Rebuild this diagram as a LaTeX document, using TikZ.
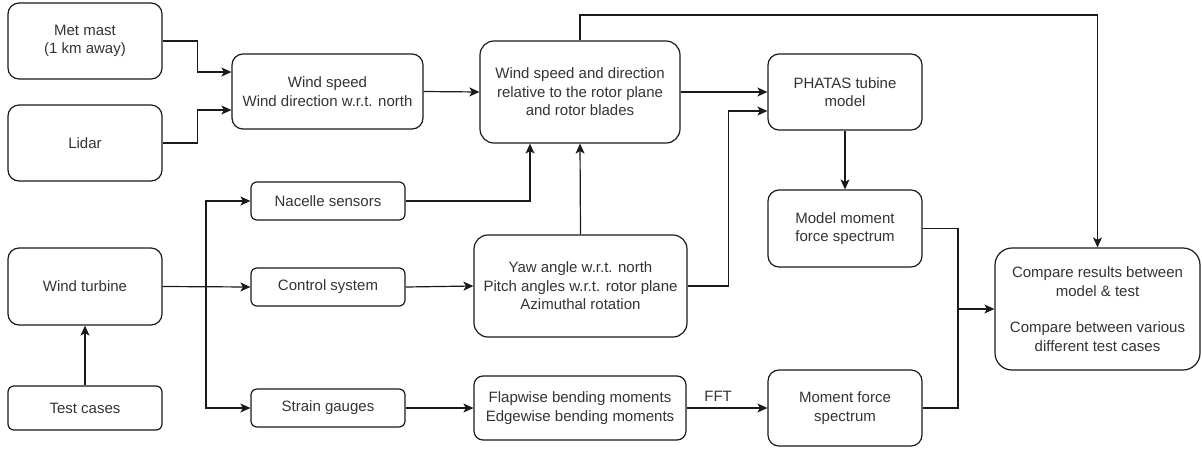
\documentclass[tikz,border=0pt]{standalone}
\usepackage{fontspec}
\setmainfont{Liberation Sans}
\usetikzlibrary{arrows.meta}
\definecolor{inkline}{HTML}{1A1A1A}
\definecolor{inktext}{HTML}{333333}
\begin{document}
\begin{tikzpicture}[x=1pt,y=-1pt,
  box/.style={draw=inkline, line width=1.2pt, align=center, text=inktext,
    inner sep=0pt, font=\fontsize{15}{18.5}\selectfont},
  big/.style={box, rounded corners=11pt},
  small/.style={box, rounded corners=6pt},
  link/.style={draw=inkline, line width=1.2pt},
  arr/.style={link, -{Stealth[length=10pt,width=9pt,inset=2.5pt]}}]
\useasboundingbox (0,0) rectangle (1202,448);

% input sources
\node[big, minimum width=154pt, minimum height=76pt] (met) at (85,41) {Met mast\\(1 km away)};
\node[big, minimum width=154pt, minimum height=76pt] (lidar) at (85,143) {Lidar};
\node[big, minimum width=154pt, minimum height=77pt] (wt) at (85,286.5) {Wind turbine};
\node[small, minimum width=154pt, minimum height=44pt] (tc) at (85,408) {Test cases};

% measured quantities
\node[big, minimum width=191pt, minimum height=75pt] (ws) at (327.5,91.5) {Wind speed\\Wind direction w.r.t. north};
\node[small, minimum width=154pt, minimum height=38pt] (nac) at (328,201) {Nacelle sensors};
\node[small, minimum width=154pt, minimum height=38pt] (ctl) at (328,287) {Control system};
\node[small, minimum width=154pt, minimum height=38pt] (sg) at (328,408) {Strain gauges};

% derived quantities
\node[box, rounded corners=14pt, minimum width=200pt, minimum height=102pt] (rel) at (580,92)
  {Wind speed and direction\\relative to the rotor plane\\and rotor blades};
\node[box, rounded corners=14pt, minimum width=213pt, minimum height=102pt] (yaw) at (580.5,286)
  {Yaw angle w.r.t. north\\Pitch angles w.r.t. rotor plane\\Azimuthal rotation};
\node[box, rounded corners=9pt, minimum width=212pt, minimum height=64pt] (flap) at (580,408)
  {Flapwise bending moments\\Edgewise bending moments};

% model and spectra
\node[big, minimum width=154pt, minimum height=76pt] (ph) at (845,92) {PHATAS tubine\\model};
\node[big, minimum width=154pt, minimum height=77pt] (mm) at (845,228.5) {Model moment\\force spectrum};
\node[big, minimum width=154pt, minimum height=76pt] (mf) at (845,408) {Moment force\\spectrum};

% comparison
\node[box, rounded corners=17pt, minimum width=205pt, minimum height=122pt] (cmp) at (1097.5,309)
  {Compare results between\\model \& test\\[18pt]Compare between various\\different test cases};

% wind inputs
\draw[arr] (met.east) -- ++(35,0) |- ([yshift=19.5pt]ws.west);
\draw[arr] (lidar.east) -- ++(35,0) |- ([yshift=-18.5pt]ws.west);
\draw[arr] (ws.east) -- (rel.west);

% turbine branches
\coordinate (br) at (206,287);
\draw[arr] (tc.north) -- (wt.south);
\draw[arr] (wt.east) -- (ctl.west);
\draw[arr] (br) |- (nac.west);
\draw[arr] (br) |- (sg.west);

% into the relative wind box
\draw[arr] (nac.east) -| ([xshift=-50pt]rel.south);
\draw[arr] (yaw.north) -- (rel.south);
\draw[arr] (ctl.east) -- (yaw.west);
\draw[arr] (sg.east) -- (flap.west);

% model chain
\draw[arr] (rel.east) -- (ph.west);
\draw[arr] (yaw.east) -- ++(41,0) |- ([yshift=-19pt]ph.west);
\draw[arr] (ph.south) -- (mm.north);
\draw[arr] (flap.east) -- node[above, pos=0.39, yshift=3pt, text=inktext,
  font=\fontsize{15}{18}\selectfont] (fft) {FFT} (mf.west);

% results to comparison
\coordinate (jn) at (958,309);
\draw[link] (mm.east) -| (jn) |- (mf.east);
\draw[arr] (jn) -- (cmp.west);
\draw[arr] (rel.north) |- (cmp.north |- 0,15) -- (cmp.north);
\end{tikzpicture}
\end{document}
